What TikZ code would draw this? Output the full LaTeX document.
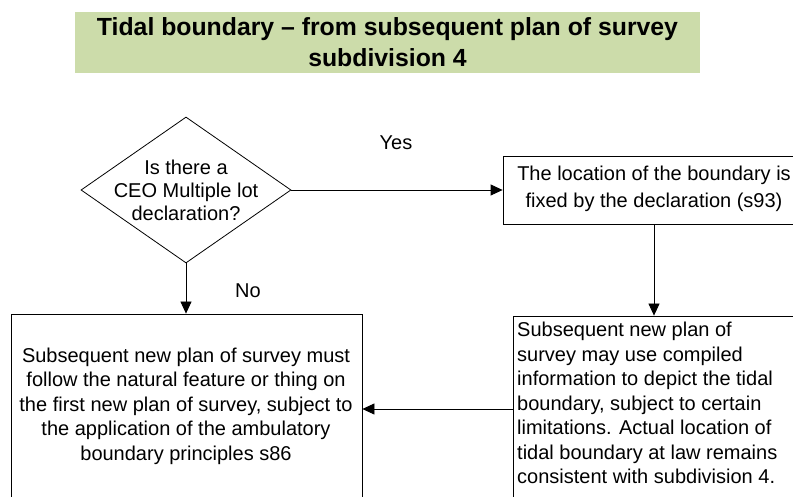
\documentclass[tikz,border=0pt]{standalone}
\usepackage{fontspec}
\setmainfont{Liberation Sans}
\usetikzlibrary{shapes.geometric,arrows.meta}
\definecolor{titlegreen}{RGB}{204,220,170}
\begin{document}
\begin{tikzpicture}[x=1pt,y=-1pt,
  box/.style={draw=black, line width=0.8pt, rectangle, inner sep=0pt},
  txt/.style={font=\fontsize{20}{23}\selectfont, inner sep=0pt},
  arr/.style={-{Triangle[length=12pt,width=11pt]}, line width=0.8pt},
  ]
\useasboundingbox (0,0) rectangle (793,497);
\node[fill=titlegreen, minimum width=625pt, minimum height=61pt, inner sep=0pt,
      font=\bfseries\fontsize{24.8}{31}\selectfont, align=center] (title) at (387.5,42.5)
  {Tidal boundary -- from subsequent plan of survey\\subdivision 4};
\node[draw, diamond, line width=0.8pt, minimum width=210pt, minimum height=146pt, inner sep=0pt] (q) at (186,190) {};
\node[txt, align=center] (qt) at (q) {Is there a\\CEO Multiple lot\\declaration?};
\node[box, minimum width=302pt, minimum height=68pt] (b1) at (654,190) {};
\node[txt, align=center, font=\fontsize{20}{27}\selectfont] (b1t) at (654,189) {The location of the boundary is\\fixed by the declaration (s93)};
\node[box, minimum width=351pt, minimum height=190pt] (b2) at (186.5,409) {};
\node[txt, align=center, font=\fontsize{20}{24.5}\selectfont] (b2t) at (186,406) {Subsequent new plan of survey must\\follow the natural feature or thing on\\the first new plan of survey, subject to\\the application of the ambulatory\\boundary principles s86};
\node[box, minimum width=292pt, minimum height=186pt] (b3) at (659,409) {};
\node[txt, align=left, anchor=west, font=\fontsize{20}{24.5}\selectfont] (b3t) at (517,403) {Subsequent new plan of\\survey may use compiled\\information to depict the tidal\\boundary, subject to certain\\limitations. Actual location of\\tidal boundary at law remains\\consistent with subdivision 4.};
\draw[arr] (q.east) -- (b1.west);
\draw[arr] (q.south) -- (q.south |- b2.north);
\draw[arr] (b1.south) -- (b1.south |- b3.north);
\draw[arr] (b3.west) -- (b2.east);
\node[txt] (yes) at (396,143) {Yes};
\node[txt] (no) at (248,291) {No};
\end{tikzpicture}
\end{document}
